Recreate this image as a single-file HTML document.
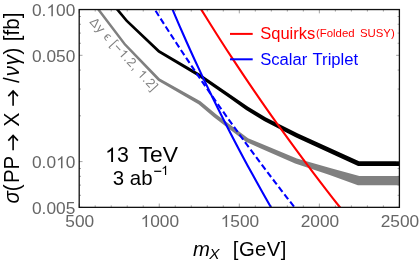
<!DOCTYPE html>
<html><head><meta charset="utf-8"><title>plot</title>
<style>
html,body{margin:0;padding:0;background:#fff;}
body{width:420px;height:263px;overflow:hidden;font-family:"Liberation Sans",sans-serif;}
svg{display:block;will-change:transform;font-family:"Liberation Sans",sans-serif;}
</style></head><body>
<svg width="420" height="263" viewBox="0 0 420 263">
<rect width="420" height="263" fill="#fff"/>
<defs><clipPath id="c"><rect x="79.2" y="9.55" width="320.2" height="197.79999999999998"/></clipPath></defs>
<g clip-path="url(#c)">
<polygon points="94.18,5.87 97.80,10.66 123.85,45.01 158.03,80.72 198.50,104.24 213.85,117.25 245.91,141.87 259.11,147.67 295.12,163.40 328.98,174.64 357.89,185.15 406.00,185.15 406.00,176.05 359.31,176.05 331.02,168.16 296.88,158.60 260.89,143.53 248.09,138.13 216.15,114.35 200.50,101.36 159.77,78.48 125.75,43.39 99.80,9.14 96.17,4.36" fill="#808080"/>
<polygon points="112.55,5.84 116.40,10.44 125.85,21.69 158.05,52.42 198.66,76.71 229.00,97.84 246.06,109.89 264.02,121.05 296.05,137.48 358.07,166.05 406.00,166.05 406.00,161.15 359.13,161.15 297.95,133.52 265.98,117.55 248.14,106.71 231.00,94.96 200.34,74.09 159.75,50.18 127.75,19.91 118.40,8.76 114.54,4.17" fill="#000"/>
<polyline points="169.17,1.38 172.60,9.60 176.08,17.82 179.62,26.05 183.20,34.27 186.84,42.50 190.54,50.73 194.28,58.95 198.08,67.17 201.93,75.40 205.84,83.62 209.80,91.85 213.81,100.08 217.87,108.30 221.99,116.53 226.16,124.75 230.38,132.97 234.66,141.20 238.99,149.43 243.37,157.65 247.81,165.88 252.30,174.10 256.84,182.33 261.43,190.55 266.08,198.77 270.78,207.00 275.54,215.22" fill="none" stroke="#0000ff" stroke-width="2.1"/>
<polyline points="149.76,1.38 154.90,9.60 160.09,17.82 165.34,26.05 170.64,34.27 175.99,42.50 181.40,50.73 186.86,58.95 192.37,67.17 197.94,75.40 203.56,83.62 209.23,91.85 214.96,100.08 220.74,108.30 226.58,116.53 232.46,124.75 238.41,132.97 244.40,141.20 250.45,149.43 256.56,157.65 262.71,165.88 268.92,174.10 275.19,182.33 281.50,190.55 287.87,198.77 294.30,207.00 300.78,215.22" fill="none" stroke="#0000ff" stroke-width="2.1" stroke-dasharray="6.2 3.15" stroke-dashoffset="7.7"/>
<polyline points="196.27,1.38 201.30,9.60 206.39,17.82 211.54,26.05 216.74,34.27 222.01,42.50 227.33,50.73 232.71,58.95 238.16,67.17 243.66,75.40 249.22,83.62 254.84,91.85 260.52,100.08 266.26,108.30 272.06,116.53 277.91,124.75 283.83,132.97 289.80,141.20 295.84,149.43 301.93,157.65 308.08,165.88 314.29,174.10 320.56,182.33 326.89,190.55 333.28,198.77 339.73,207.00 346.24,215.22" fill="none" stroke="#ff0000" stroke-width="2.1"/>
</g>
<g stroke="#666" stroke-width="0.6"><line x1="79.20" y1="207.35" x2="79.20" y2="203.55"/><line x1="79.20" y1="9.55" x2="79.20" y2="13.35"/><line x1="95.21" y1="207.35" x2="95.21" y2="205.35"/><line x1="95.21" y1="9.55" x2="95.21" y2="11.55"/><line x1="111.22" y1="207.35" x2="111.22" y2="205.35"/><line x1="111.22" y1="9.55" x2="111.22" y2="11.55"/><line x1="127.23" y1="207.35" x2="127.23" y2="205.35"/><line x1="127.23" y1="9.55" x2="127.23" y2="11.55"/><line x1="143.24" y1="207.35" x2="143.24" y2="205.35"/><line x1="143.24" y1="9.55" x2="143.24" y2="11.55"/><line x1="159.25" y1="207.35" x2="159.25" y2="203.55"/><line x1="159.25" y1="9.55" x2="159.25" y2="13.35"/><line x1="175.26" y1="207.35" x2="175.26" y2="205.35"/><line x1="175.26" y1="9.55" x2="175.26" y2="11.55"/><line x1="191.27" y1="207.35" x2="191.27" y2="205.35"/><line x1="191.27" y1="9.55" x2="191.27" y2="11.55"/><line x1="207.28" y1="207.35" x2="207.28" y2="205.35"/><line x1="207.28" y1="9.55" x2="207.28" y2="11.55"/><line x1="223.29" y1="207.35" x2="223.29" y2="205.35"/><line x1="223.29" y1="9.55" x2="223.29" y2="11.55"/><line x1="239.30" y1="207.35" x2="239.30" y2="203.55"/><line x1="239.30" y1="9.55" x2="239.30" y2="13.35"/><line x1="255.31" y1="207.35" x2="255.31" y2="205.35"/><line x1="255.31" y1="9.55" x2="255.31" y2="11.55"/><line x1="271.32" y1="207.35" x2="271.32" y2="205.35"/><line x1="271.32" y1="9.55" x2="271.32" y2="11.55"/><line x1="287.33" y1="207.35" x2="287.33" y2="205.35"/><line x1="287.33" y1="9.55" x2="287.33" y2="11.55"/><line x1="303.34" y1="207.35" x2="303.34" y2="205.35"/><line x1="303.34" y1="9.55" x2="303.34" y2="11.55"/><line x1="319.35" y1="207.35" x2="319.35" y2="203.55"/><line x1="319.35" y1="9.55" x2="319.35" y2="13.35"/><line x1="335.36" y1="207.35" x2="335.36" y2="205.35"/><line x1="335.36" y1="9.55" x2="335.36" y2="11.55"/><line x1="351.37" y1="207.35" x2="351.37" y2="205.35"/><line x1="351.37" y1="9.55" x2="351.37" y2="11.55"/><line x1="367.38" y1="207.35" x2="367.38" y2="205.35"/><line x1="367.38" y1="9.55" x2="367.38" y2="11.55"/><line x1="383.39" y1="207.35" x2="383.39" y2="205.35"/><line x1="383.39" y1="9.55" x2="383.39" y2="11.55"/><line x1="399.40" y1="207.35" x2="399.40" y2="203.55"/><line x1="399.40" y1="9.55" x2="399.40" y2="13.35"/><line x1="79.20" y1="9.55" x2="82.50" y2="9.55"/><line x1="399.40" y1="9.55" x2="396.10" y2="9.55"/><line x1="79.20" y1="55.32" x2="82.50" y2="55.32"/><line x1="399.40" y1="55.32" x2="396.10" y2="55.32"/><line x1="79.20" y1="161.58" x2="82.50" y2="161.58"/><line x1="399.40" y1="161.58" x2="396.10" y2="161.58"/><line x1="79.20" y1="207.35" x2="82.50" y2="207.35"/><line x1="399.40" y1="207.35" x2="396.10" y2="207.35"/><line x1="79.20" y1="16.51" x2="81.00" y2="16.51"/><line x1="399.40" y1="16.51" x2="397.60" y2="16.51"/><line x1="79.20" y1="24.28" x2="81.00" y2="24.28"/><line x1="399.40" y1="24.28" x2="397.60" y2="24.28"/><line x1="79.20" y1="33.10" x2="81.00" y2="33.10"/><line x1="399.40" y1="33.10" x2="397.60" y2="33.10"/><line x1="79.20" y1="43.28" x2="81.00" y2="43.28"/><line x1="399.40" y1="43.28" x2="397.60" y2="43.28"/><line x1="79.20" y1="70.05" x2="81.00" y2="70.05"/><line x1="399.40" y1="70.05" x2="397.60" y2="70.05"/><line x1="79.20" y1="89.05" x2="81.00" y2="89.05"/><line x1="399.40" y1="89.05" x2="397.60" y2="89.05"/><line x1="79.20" y1="115.82" x2="81.00" y2="115.82"/><line x1="399.40" y1="115.82" x2="397.60" y2="115.82"/><line x1="79.20" y1="168.54" x2="81.00" y2="168.54"/><line x1="399.40" y1="168.54" x2="397.60" y2="168.54"/><line x1="79.20" y1="176.32" x2="81.00" y2="176.32"/><line x1="399.40" y1="176.32" x2="397.60" y2="176.32"/><line x1="79.20" y1="185.13" x2="81.00" y2="185.13"/><line x1="399.40" y1="185.13" x2="397.60" y2="185.13"/><line x1="79.20" y1="195.31" x2="81.00" y2="195.31"/><line x1="399.40" y1="195.31" x2="397.60" y2="195.31"/></g>
<rect x="79.2" y="9.55" width="320.2" height="197.79999999999998" fill="none" stroke="#111" stroke-width="1.3"/>
<g fill="#666"><text x="65.37" y="227.00" font-size="17.3">500</text><path transform="translate(140.61,227.00) scale(0.00845,-0.00845)" d="M763 0H583V1102Q518 1043 412 983T223 894V1061Q374 1129 487 1226T647 1409H763Z"/><text x="150.23" y="227.00" font-size="17.3">000</text><path transform="translate(220.66,227.00) scale(0.00845,-0.00845)" d="M763 0H583V1102Q518 1043 412 983T223 894V1061Q374 1129 487 1226T647 1409H763Z"/><text x="230.28" y="227.00" font-size="17.3">500</text><text x="300.71" y="227.00" font-size="17.3">2000</text><text x="380.76" y="227.00" font-size="17.3">2500</text><text x="32.01" y="16.15" font-size="17.3">0.</text><path transform="translate(46.44,16.15) scale(0.00845,-0.00845)" d="M763 0H583V1102Q518 1043 412 983T223 894V1061Q374 1129 487 1226T647 1409H763Z"/><text x="56.06" y="16.15" font-size="17.3">00</text><text x="32.01" y="61.92" font-size="17.3">0.050</text><text x="32.01" y="168.18" font-size="17.3">0.0</text><path transform="translate(56.06,168.18) scale(0.00845,-0.00845)" d="M763 0H583V1102Q518 1043 412 983T223 894V1061Q374 1129 487 1226T647 1409H763Z"/><text x="65.68" y="168.18" font-size="17.3">0</text><text x="32.01" y="213.95" font-size="17.3">0.005</text></g>
<g fill="#000">
<path transform="translate(105.10,162.10) scale(0.01040,-0.01040)" d="M763 0H583V1102Q518 1043 412 983T223 894V1061Q374 1129 487 1226T647 1409H763Z"/><text x="116.95" y="162.10" font-size="21.3">3</text>
<text x="138.6" y="162.1" font-size="21.3" textLength="39.4" lengthAdjust="spacingAndGlyphs">TeV</text>
<text x="112.8" y="184.5" font-size="20.4">3 ab</text>
<line x1="154.2" y1="171.3" x2="161.3" y2="171.3" stroke="#000" stroke-width="1.25"/>
<path transform="translate(161.20,174.90) scale(0.00649,-0.00649)" d="M763 0H583V1102Q518 1043 412 983T223 894V1061Q374 1129 487 1226T647 1409H763Z"/>
<text x="192.9" y="255.9" font-size="20.3" font-style="italic">m</text>
<text x="209.3" y="259.4" font-size="15.3" font-style="italic">X</text>
<text x="232.8" y="255.9" font-size="20.3" letter-spacing="0.45">[GeV]</text>
<g transform="translate(18.6,0) rotate(-90) scale(1,1.05)" font-size="20.5" text-anchor="middle">
<text x="-194.0" y="0"><tspan font-style="italic">σ</tspan>(</text>
<text x="-169.4" y="0">PP</text>
<text x="-119.6" y="0.3" font-size="21.6" textLength="14.2" lengthAdjust="spacingAndGlyphs">X</text>
<text x="-76.3" y="0" letter-spacing="0.7" text-anchor="start"><tspan font-style="italic">νγ</tspan>)</text>
<text x="-26.9" y="0">[fb]</text>
</g>
<path d="M3.5,78.3L18.6,82.0" fill="none" stroke="#000" stroke-width="1.45" stroke-linecap="round"/>
<g fill="none" stroke="#000" stroke-width="1.6">
<path d="M13.1,105.8V91.2M8.3,96.1L13.1,91L17.9,96.1"/>
<path d="M13.1,150.3V135.7M8.3,140.6L13.1,135.5L17.9,140.6"/>
</g>
</g>
<line x1="230.0" y1="33.9" x2="252.7" y2="33.9" stroke="#ff0000" stroke-width="2"/>
<line x1="230.0" y1="59.3" x2="252.7" y2="59.3" stroke="#0000ff" stroke-width="2"/>
<text x="260.2" y="38.9" font-size="16.55" fill="#ff0000">Squirks</text>
<text x="316" y="37.2" font-size="11.4" word-spacing="2.1" fill="#ff0000">(Folded SUSY)</text>
<text x="260.2" y="64.8" font-size="16.65" word-spacing="0.9" fill="#0000ff">Scalar Triplet</text>
<g transform="translate(89.0,22.2) rotate(47.5)" fill="#808080"><text x="0.00" y="0.00" font-size="12.8" letter-spacing="0.6">Δy ϵ [−</text><path transform="translate(42.95,0.00) scale(0.00625,-0.00625)" d="M763 0H583V1102Q518 1043 412 983T223 894V1061Q374 1129 487 1226T647 1409H763Z"/><text x="50.67" y="0.00" font-size="12.8" letter-spacing="0.6">.2, </text><path transform="translate(70.86,0.00) scale(0.00625,-0.00625)" d="M763 0H583V1102Q518 1043 412 983T223 894V1061Q374 1129 487 1226T647 1409H763Z"/><text x="78.58" y="0.00" font-size="12.8" letter-spacing="0.6">.2]</text></g>
</svg>
</body></html>
